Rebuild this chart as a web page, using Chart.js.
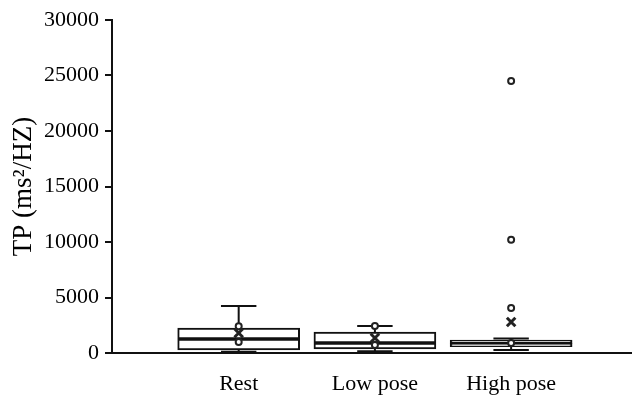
<!DOCTYPE html>
<html lang="en">
<head>
  <meta charset="UTF-8">
  <title>TP box plot</title>
  <script src="https://cdn.jsdelivr.net/npm/chart.js"></script>
  <style>
    html, body { margin: 0; padding: 0; background: #fff; overflow: hidden; }
    #wrap { width: 633px; height: 395px; }
  </style>
</head>
<body>
<div id="wrap"><canvas id="tpChart"></canvas></div>
<script>
  // categories and box statistics (ms^2/Hz)
  const groups = ['Rest', 'Low pose', 'High pose'];
  const groupPos = [1, 2, 3];
  const whiskerMin = [120, 150, 270];
  const q1 = [270, 360, 560];
  const median = [1260, 900, 850];
  const q3 = [2250, 1890, 1170];
  const whiskerMax = [4230, 2430, 1300];
  const means = [1800, 1350, 2790];
  const restPoints = [2400, 1000];
  const lowPoints = [2430, 720];
  const highPoints = [24500, 10200, 4050, 900];
  const yTicks = [0, 5000, 10000, 15000, 20000, 25000, 30000];

  const serif = '"Liberation Serif", "Times New Roman", serif';
  const capHalf = 0.13;

  // whisker segments, broken with nulls
  const whiskers = [];
  groupPos.forEach((x, i) => {
    whiskers.push({x, y: q3[i]}, {x, y: whiskerMax[i]}, {x, y: null});
    whiskers.push({x: x - capHalf, y: whiskerMax[i]}, {x: x + capHalf, y: whiskerMax[i]}, {x, y: null});
    whiskers.push({x, y: q1[i]}, {x, y: whiskerMin[i]}, {x, y: null});
    whiskers.push({x: x - capHalf, y: whiskerMin[i]}, {x: x + capHalf, y: whiskerMin[i]}, {x, y: null});
  });

  const points = [];
  [restPoints, lowPoints, highPoints].forEach((arr, i) => {
    arr.forEach(v => points.push({x: groupPos[i], y: v}));
  });

  new Chart(document.getElementById('tpChart'), {
    type: 'bar',
    data: {
      datasets: [
        {
          label: 'whiskers', type: 'line', data: whiskers,
          borderColor: '#111', borderWidth: 2, pointRadius: 0, spanGaps: false, order: 3
        },
        {
          label: 'lower box', data: groupPos.map((x, i) => ({x, y: [q1[i], median[i]]})),
          backgroundColor: '#fff', borderColor: '#111', borderWidth: 2, borderSkipped: false,
          barThickness: 122, grouped: false, order: 2
        },
        {
          label: 'upper box', data: groupPos.map((x, i) => ({x, y: [median[i], q3[i]]})),
          backgroundColor: '#fff', borderColor: '#111', borderWidth: 2, borderSkipped: false,
          barThickness: 122, grouped: false, order: 2
        },
        {
          label: 'points', type: 'scatter', data: points,
          pointStyle: 'circle', pointRadius: 3, borderWidth: 2,
          borderColor: '#222', backgroundColor: '#fff', order: 1
        },
        {
          label: 'mean', type: 'scatter', data: groupPos.map((x, i) => ({x, y: means[i]})),
          pointStyle: 'crossRot', pointRadius: 6, borderWidth: 3, borderColor: '#222', order: 0
        }
      ]
    },
    options: {
      responsive: true,
      maintainAspectRatio: false,
      animation: false,
      layout: { autoPadding: false, padding: { top: 20, right: 2, left: 0, bottom: 0 } },
      plugins: { legend: { display: false }, tooltip: { enabled: false } },
      scales: {
        x: {
          type: 'linear', min: 0.07, max: 3.88, offset: false,
          afterBuildTicks: axis => { axis.ticks = groupPos.map(v => ({value: v})); },
          afterFit: axis => { axis.height = 42; },
          grid: { display: false },
          border: { display: true, color: '#111', width: 2 },
          ticks: {
            color: '#000', padding: 10, maxRotation: 0,
            font: { family: serif, size: 22 },
            callback: v => groups[groupPos.indexOf(v)] || ''
          }
        },
        y: {
          min: 0, max: 30000,
          afterBuildTicks: axis => { axis.ticks = yTicks.map(v => ({value: v})); },
          afterFit: axis => { axis.width = 112; },
          grid: { drawOnChartArea: false, drawTicks: true, tickLength: 7, color: '#111', lineWidth: 2 },
          border: { display: true, color: '#111', width: 2 },
          title: {
            display: true, text: 'TP (ms²/HZ)', color: '#000',
            font: { family: serif, size: 27 }, padding: { top: 8, bottom: 0 }
          },
          ticks: {
            color: '#000', padding: 6, font: { family: serif, size: 22 },
            callback: v => String(v)
          }
        }
      }
    }
  });
</script>
</body>
</html>
